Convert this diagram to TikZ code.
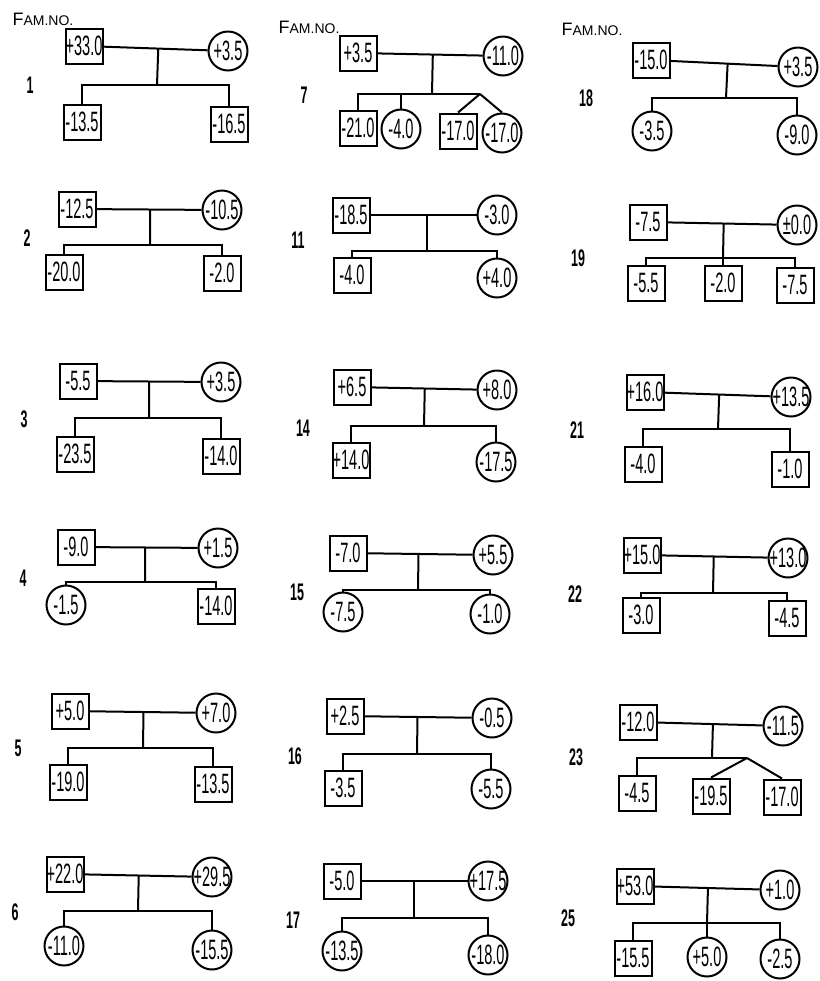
\documentclass[tikz,border=0pt]{standalone}
\usepackage{fontspec}
\setmainfont[FakeStretch=0.52]{Liberation Sans}
\newfontfamily\headfont{Liberation Sans}
\usetikzlibrary{calc}

\begin{document}
\begin{tikzpicture}[x=0.5pt, y=-0.5pt,
    male/.style={rectangle, draw, line width=1pt, minimum width=18.5pt, minimum height=17.5pt, inner sep=-2pt, font=\fontsize{14}{14}\selectfont},
    female/.style={circle, draw, line width=1pt, minimum size=19.5pt, inner sep=-2pt, font=\fontsize{14}{14}\selectfont},
    conn/.style={line width=1pt},
    famno/.style={font=\bfseries\fontsize{12}{12}\selectfont},
    head/.style={font=\headfont\fontsize{9}{9}\selectfont}
]
\useasboundingbox (0,0) rectangle (820,981);

\node[head] (hd1) at (43,19) {F{\fontsize{7}{7}\selectfont AM.NO.}};
\node[head] (hd2) at (309,27) {F{\fontsize{7}{7}\selectfont AM.NO.}};
\node[head] (hd3) at (592,29) {F{\fontsize{7}{7}\selectfont AM.NO.}};

\node[famno] (no1) at (30,85) {1};
\node[male] (dad1) at (84,46) {+33.0};
\node[female] (mom1) at (228,51) {+3.5};
\coordinate (sib1) at (157,85);
\node[male] (kid1a) at (82,122) {-13.5};
\node[male] (kid1b) at (229,124) {-16.5};
\draw[conn] (dad1) -- (mom1);
\draw[conn] (sib1) -- ($(dad1)!(sib1)!(mom1)$);
\draw[conn] (kid1a) |- (sib1) -| (kid1b);

\node[famno] (no2) at (27,238) {2};
\node[male] (dad2) at (77,209) {-12.5};
\node[female] (mom2) at (222,210) {-10.5};
\coordinate (sib2) at (150,245);
\node[male] (kid2a) at (64,272) {-20.0};
\node[male] (kid2b) at (222,273) {-2.0};
\draw[conn] (dad2) -- (mom2);
\draw[conn] (sib2) -- ($(dad2)!(sib2)!(mom2)$);
\draw[conn] (kid2a) |- (sib2) -| (kid2b);

\node[famno] (no3) at (24,419) {3};
\node[male] (dad3) at (78,381) {-5.5};
\node[female] (mom3) at (221,382) {+3.5};
\coordinate (sib3) at (149,418);
\node[male] (kid3a) at (75,454) {-23.5};
\node[male] (kid3b) at (221,456) {-14.0};
\draw[conn] (dad3) -- (mom3);
\draw[conn] (sib3) -- ($(dad3)!(sib3)!(mom3)$);
\draw[conn] (kid3a) |- (sib3) -| (kid3b);

\node[famno] (no4) at (23,578) {4};
\node[male] (dad4) at (76,547) {-9.0};
\node[female] (mom4) at (218,548) {+1.5};
\coordinate (sib4) at (145,582);
\node[female] (kid4a) at (66,605) {-1.5};
\node[male] (kid4b) at (216,606) {-14.0};
\draw[conn] (dad4) -- (mom4);
\draw[conn] (sib4) -- ($(dad4)!(sib4)!(mom4)$);
\draw[conn] (kid4a) |- (sib4) -| (kid4b);

\node[famno] (no5) at (18,748) {5};
\node[male] (dad5) at (70,711) {+5.0};
\node[female] (mom5) at (216,713) {+7.0};
\coordinate (sib5) at (143,748);
\node[male] (kid5a) at (68,782) {-19.0};
\node[male] (kid5b) at (213,784) {-13.5};
\draw[conn] (dad5) -- (mom5);
\draw[conn] (sib5) -- ($(dad5)!(sib5)!(mom5)$);
\draw[conn] (kid5a) |- (sib5) -| (kid5b);

\node[famno] (no6) at (15,912) {6};
\node[male] (dad6) at (65,874) {+22.0};
\node[female] (mom6) at (212,877) {+29.5};
\coordinate (sib6) at (138,911);
\node[female] (kid6a) at (64,946) {-11.0};
\node[female] (kid6b) at (212,950) {-15.5};
\draw[conn] (dad6) -- (mom6);
\draw[conn] (sib6) -- ($(dad6)!(sib6)!(mom6)$);
\draw[conn] (kid6a) |- (sib6) -| (kid6b);

\node[famno] (no7) at (304,95) {7};
\node[male] (dad7) at (358,53) {+3.5};
\node[female] (mom7) at (503,56) {-11.0};
\coordinate (sib7) at (432,94);
\coordinate (twin7) at (480,94);
\node[male] (kid7a) at (358,128) {-21.0};
\node[female] (kid7b) at (401,129) {-4.0};
\node[male] (kid7c) at (458,131) {-17.0};
\node[female] (kid7d) at (502,133) {-17.0};
\draw[conn] (dad7) -- (mom7);
\draw[conn] (sib7) -- ($(dad7)!(sib7)!(mom7)$);
\draw[conn] (kid7a) |- (twin7);
\draw[conn] (kid7b) -- (kid7b |- twin7);
\draw[conn] (twin7) -- (kid7c.north);
\draw[conn] (twin7) -- (kid7d.north);

\node[famno] (no11) at (298,240) {11};
\node[male] (dad11) at (351,215) {-18.5};
\node[female] (mom11) at (497,215) {-3.0};
\coordinate (sib11) at (427,251);
\node[male] (kid11a) at (352,275) {-4.0};
\node[female] (kid11b) at (497,278) {+4.0};
\draw[conn] (dad11) -- (mom11);
\draw[conn] (sib11) -- ($(dad11)!(sib11)!(mom11)$);
\draw[conn] (kid11a) |- (sib11) -| (kid11b);

\node[famno] (no14) at (303,428) {14};
\node[male] (dad14) at (352,387) {+6.5};
\node[female] (mom14) at (497,390) {+8.0};
\coordinate (sib14) at (424,426);
\node[male] (kid14a) at (351,460) {+14.0};
\node[female] (kid14b) at (496,462) {-17.5};
\draw[conn] (dad14) -- (mom14);
\draw[conn] (sib14) -- ($(dad14)!(sib14)!(mom14)$);
\draw[conn] (kid14a) |- (sib14) -| (kid14b);

\node[famno] (no15) at (297,592) {15};
\node[male] (dad15) at (348,553) {-7.0};
\node[female] (mom15) at (493,555) {+5.5};
\coordinate (sib15) at (418,590);
\node[female] (kid15a) at (343,612) {-7.5};
\node[female] (kid15b) at (490,614) {-1.0};
\draw[conn] (dad15) -- (mom15);
\draw[conn] (sib15) -- ($(dad15)!(sib15)!(mom15)$);
\draw[conn] (kid15a) |- (sib15) -| (kid15b);

\node[famno] (no16) at (295,756) {16};
\node[male] (dad16) at (345,716) {+2.5};
\node[female] (mom16) at (492,718) {-0.5};
\coordinate (sib16) at (417,754);
\node[male] (kid16a) at (343,788) {-3.5};
\node[female] (kid16b) at (491,789) {-5.5};
\draw[conn] (dad16) -- (mom16);
\draw[conn] (sib16) -- ($(dad16)!(sib16)!(mom16)$);
\draw[conn] (kid16a) |- (sib16) -| (kid16b);

\node[famno] (no17) at (293,920) {17};
\node[male] (dad17) at (342,881) {-5.0};
\node[female] (mom17) at (488,881) {+17.5};
\coordinate (sib17) at (414,918);
\node[female] (kid17a) at (342,951) {-13.5};
\node[female] (kid17b) at (488,955) {-18.0};
\draw[conn] (dad17) -- (mom17);
\draw[conn] (sib17) -- ($(dad17)!(sib17)!(mom17)$);
\draw[conn] (kid17a) |- (sib17) -| (kid17b);

\node[famno] (no18) at (586,98) {18};
\node[male] (dad18) at (651,60) {-15.0};
\node[female] (mom18) at (798,67) {+3.5};
\coordinate (sib18) at (726,98);
\node[female] (kid18a) at (652,131) {-3.5};
\node[female] (kid18b) at (797,135) {-9.0};
\draw[conn] (dad18) -- (mom18);
\draw[conn] (sib18) -- ($(dad18)!(sib18)!(mom18)$);
\draw[conn] (kid18a) |- (sib18) -| (kid18b);

\node[famno] (no19) at (578,258) {19};
\node[male] (dad19) at (648,222) {-7.5};
\node[female] (mom19) at (797,225) {±0.0};
\coordinate (sib19) at (723,258);
\node[male] (kid19a) at (646,283) {-5.5};
\node[male] (kid19b) at (723,283) {-2.0};
\node[male] (kid19c) at (795,285) {-7.5};
\draw[conn] (dad19) -- (mom19);
\draw[conn] (sib19) -- ($(dad19)!(sib19)!(mom19)$);
\draw[conn] (kid19a) |- (sib19) -| (kid19c);
\draw[conn] (kid19b) -- (kid19b |- sib19);

\node[famno] (no21) at (577,430) {21};
\node[male] (dad21) at (645,392) {+16.0};
\node[female] (mom21) at (791,397) {+13.5};
\coordinate (sib21) at (718,429);
\node[male] (kid21a) at (643,464) {-4.0};
\node[male] (kid21b) at (790,469) {-1.0};
\draw[conn] (dad21) -- (mom21);
\draw[conn] (sib21) -- ($(dad21)!(sib21)!(mom21)$);
\draw[conn] (kid21a) |- (sib21) -| (kid21b);

\node[famno] (no22) at (575,594) {22};
\node[male] (dad22) at (642,555) {+15.0};
\node[female] (mom22) at (788,558) {+13.0};
\coordinate (sib22) at (713,593);
\node[male] (kid22a) at (641,615) {-3.0};
\node[male] (kid22b) at (787,618) {-4.5};
\draw[conn] (dad22) -- (mom22);
\draw[conn] (sib22) -- ($(dad22)!(sib22)!(mom22)$);
\draw[conn] (kid22a) |- (sib22) -| (kid22b);

\node[famno] (no23) at (576,757) {23};
\node[male] (dad23) at (638,722) {-12.0};
\node[female] (mom23) at (783,726) {-11.5};
\coordinate (sib23) at (712,758);
\coordinate (twin23) at (747,758);
\node[male] (kid23a) at (637,793) {-4.5};
\node[male] (kid23b) at (711,796) {-19.5};
\node[male] (kid23c) at (782,797) {-17.0};
\draw[conn] (dad23) -- (mom23);
\draw[conn] (sib23) -- ($(dad23)!(sib23)!(mom23)$);
\draw[conn] (kid23a) |- (twin23);
\draw[conn] (twin23) -- (kid23b.north);
\draw[conn] (twin23) -- (kid23c.north);

\node[famno] (no25) at (568,918) {25};
\node[male] (dad25) at (635,886) {+53.0};
\node[female] (mom25) at (780,890) {+1.0};
\coordinate (sib25) at (707,923);
\node[male] (kid25a) at (633,958) {-15.5};
\node[female] (kid25b) at (707,957) {+5.0};
\node[female] (kid25c) at (780,959) {-2.5};
\draw[conn] (dad25) -- (mom25);
\draw[conn] (sib25) -- ($(dad25)!(sib25)!(mom25)$);
\draw[conn] (kid25a) |- (sib25) -| (kid25c);
\draw[conn] (kid25b) -- (kid25b |- sib25);

\end{tikzpicture}
\end{document}
